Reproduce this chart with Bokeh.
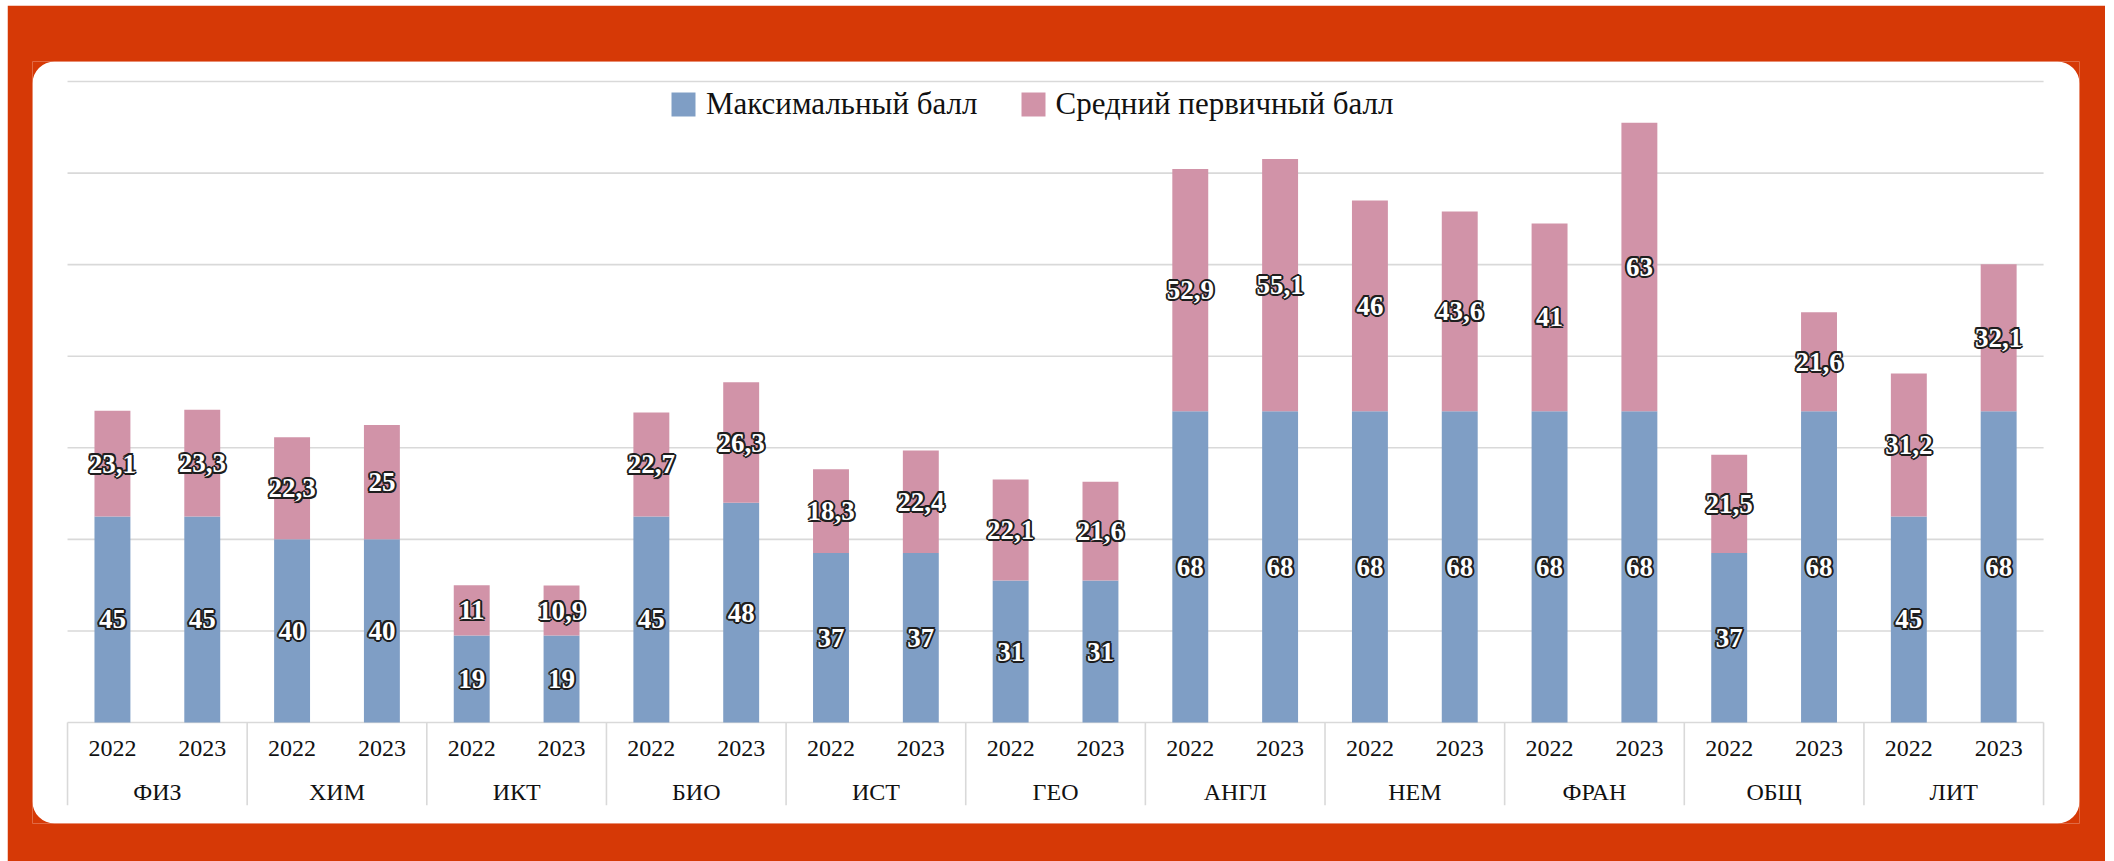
from bokeh.plotting import figure
from bokeh.models import ColumnDataSource, BoxAnnotation
from bokeh.core.properties import value
from bokeh.embed import file_html
from bokeh.resources import INLINE

# ---- data ----
subjects = ["ФИЗ", "ХИМ", "ИКТ", "БИО", "ИСТ", "ГЕО", "АНГЛ", "НЕМ", "ФРАН", "ОБЩ", "ЛИТ"]
years = ["2022", "2023"]
max_score = [45, 45, 40, 40, 19, 19, 45, 48, 37, 37, 31, 31,
             68, 68, 68, 68, 68, 68, 37, 68, 45, 68]
avg_score = [23.1, 23.3, 22.3, 25, 11, 10.9, 22.7, 26.3, 18.3, 22.4, 22.1, 21.6,
             52.9, 55.1, 46, 43.6, 41, 63, 21.5, 21.6, 31.2, 32.1]
y_ticks = [0, 20, 40, 60, 80, 100, 120, 140]
series_names = ["Максимальный балл", "Средний первичный балл"]

# ---- style ----
ORANGE = "#D63906"
BLUE = "#7F9EC5"
PINK = "#D193A8"
GRID = "#D9D9D9"
SERIF = "Liberation Serif"

n = len(max_score)
xs = [i + 0.5 for i in range(n)]
year_labels = [years[i % 2] for i in range(n)]
tops = [m + a for m, a in zip(max_score, avg_score)]


def fmt(v):
    return f"{v:g}".replace(".", ",")


src = ColumnDataSource(dict(
    x=xs, max=max_score, avg=avg_score, top=tops,
    max_mid=[m / 2 for m in max_score],
    avg_mid=[m + a / 2 for m, a in zip(max_score, avg_score)],
    max_lbl=[fmt(v) for v in max_score],
    avg_lbl=[fmt(v) for v in avg_score],
    year=year_labels,
))

p = figure(width=2098, height=856, title=None,
           x_range=(-0.39, n + 0.40), y_range=(-22.06, 144.37),
           output_backend="svg", toolbar_location=None,
           x_axis_location=None, y_axis_location=None,
           min_border_left=25, min_border_right=26,
           min_border_top=56, min_border_bottom=38,
           background_fill_color=ORANGE, border_fill_color=ORANGE,
           outline_line_color=None)
p.styles = {"margin-left": "7px", "margin-top": "5px"}
for g in p.grid:
    g.visible = False

card = BoxAnnotation(fill_color="white", fill_alpha=1.0, line_color=None,
                     border_radius=22, level="image")
p.add_layout(card)

# gridlines (incl. baseline)
p.segment(x0=0, x1=n, y0=y_ticks, y1=y_ticks, line_color=GRID, line_width=1.6)

# category separators
n_groups = len(subjects)
bounds = [2 * k for k in range(n_groups + 1)]
SEP_BOTTOM = -18.1
p.segment(x0=bounds, x1=bounds, y0=0, y1=SEP_BOTTOM, line_color=GRID, line_width=1.6)

# bars
p.vbar(x="x", width=0.4, bottom=0, top="max", source=src,
       fill_color=BLUE, line_color=None, legend_label=series_names[0])
p.vbar(x="x", width=0.4, bottom="max", top="top", source=src,
       fill_color=PINK, line_color=None, legend_label=series_names[1])

# data labels: white bold with dark outline
R = 2.0
r = R * 0.72
offsets = [(R, 0), (-R, 0), (0, R), (0, -R), (r, r), (r, -r), (-r, r), (-r, -r)]
for ycol, tcol in (("max_mid", "max_lbl"), ("avg_mid", "avg_lbl")):
    for dx, dy in offsets:
        p.text(x="x", y=ycol, text=tcol, source=src, x_offset=dx, y_offset=dy,
               text_align="center", text_baseline="middle",
               text_font=value(SERIF), text_font_style="bold",
               text_font_size="27px", text_color="#1e1e1e")
    p.text(x="x", y=ycol, text=tcol, source=src,
           text_align="center", text_baseline="middle",
           text_font=value(SERIF), text_font_style="bold",
           text_font_size="27px", text_color="white")

# axis labels
p.text(x="x", y=-5.7, text="year", source=src,
       text_align="center", text_baseline="middle",
       text_font=value(SERIF), text_font_size="24px", text_color="#111111")
p.text(x=[2 * k + 1 for k in range(n_groups)], y=-15.1, text=subjects,
       text_align="center", text_baseline="middle",
       text_font=value(SERIF), text_font_size="24px", text_color="#111111")

lg = p.legend[0]
lg.orientation = "horizontal"
lg.location = (636, 701)
lg.padding = 0
lg.margin = 0
lg.border_line_color = None
lg.background_fill_alpha = 0
lg.glyph_width = 30
lg.glyph_height = 30
lg.label_standoff = 8
lg.spacing = 40
lg.label_text_font = SERIF
lg.label_text_font_size = "31px"
lg.label_text_color = "#111111"
lg.label_height = 30

open("out.html", "w").write(file_html(p, INLINE))
